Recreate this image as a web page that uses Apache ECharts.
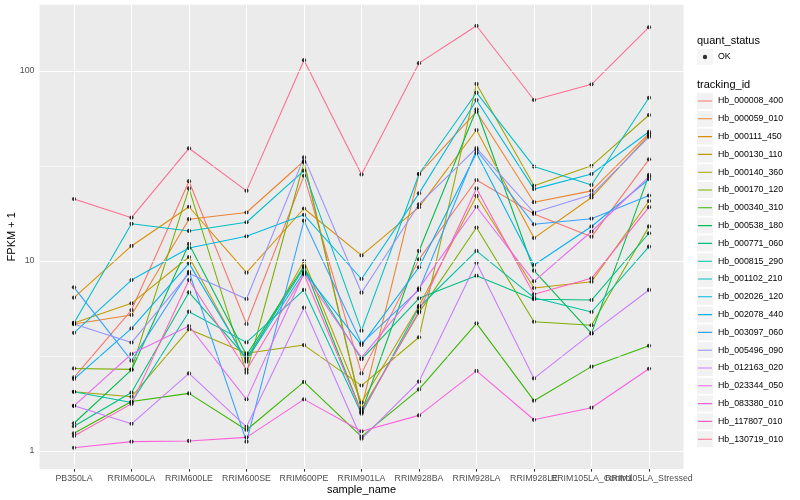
<!DOCTYPE html>
<html><head><meta charset="utf-8">
<script src="https://cdn.jsdelivr.net/npm/echarts@6/dist/echarts.min.js"></script>
<style>html,body{margin:0;padding:0;background:#fff}#c{width:800px;height:500px}</style>
</head><body><div id="c"></div>
<script>
// ---------- data ----------
const samples = ['PB350LA','RRIM600LA','RRIM600LE','RRIM600SE','RRIM600PE','RRIM901LA','RRIM928BA','RRIM928LA','RRIM928LE','RRIM105LA_Control','RRIM105LA_Stressed'];
const trackingIds = ['Hb_000008_400','Hb_000059_010','Hb_000111_450','Hb_000130_110','Hb_000140_360','Hb_000170_120','Hb_000340_310','Hb_000538_180','Hb_000771_060','Hb_000815_290','Hb_001102_210','Hb_002026_120','Hb_002078_440','Hb_003097_060','Hb_005496_090','Hb_012163_020','Hb_023344_050','Hb_083380_010','Hb_117807_010','Hb_130719_010'];
const quantStatus = ['OK'];

const Hb_000008_400 = [2.44, 5.52, 26.3, 4.66, 28.1, 2.56, 10.2, 26.7, 17.7, 13.4, 34.3];
const Hb_000059_010 = [4.66, 5.20, 16.6, 18.0, 33.6, 1.68, 28.7, 61.1, 20.4, 23.4, 47.0];
const Hb_000111_450 = [6.41, 12.0, 19.3, 8.68, 18.9, 10.7, 19.2, 48.9, 13.2, 21.6, 46.0];
const Hb_000130_110 = [4.72, 5.99, 10.5, 2.95, 10.0, 1.80, 5.80, 22.0, 7.21, 7.78, 20.7];
const Hb_000140_360 = [2.05, 1.93, 4.37, 3.27, 3.61, 2.21, 3.97, 85.5, 24.9, 31.7, 58.7];
const Hb_000170_120 = [2.72, 2.69, 24.1, 2.58, 33.1, 1.64, 5.35, 15.0, 4.79, 4.59, 15.2];
const Hb_000340_310 = [1.24, 1.82, 2.01, 1.29, 2.31, 1.19, 2.11, 4.70, 1.84, 2.78, 3.58];
const Hb_000538_180 = [1.40, 2.67, 12.3, 3.20, 9.41, 1.60, 11.3, 62.9, 8.89, 4.16, 28.4];
const Hb_000771_060 = [1.35, 2.03, 6.84, 3.09, 9.22, 3.04, 6.36, 8.37, 6.29, 6.23, 14.0];
const Hb_000815_290 = [2.05, 1.80, 5.41, 3.73, 7.04, 1.57, 5.71, 11.3, 6.41, 5.39, 11.9];
const Hb_001102_210 = [4.72, 15.7, 14.4, 16.0, 29.9, 4.30, 28.7, 76.9, 31.4, 25.1, 72.3];
const Hb_002026_120 = [4.19, 7.94, 11.7, 13.5, 17.5, 8.04, 22.7, 70.4, 23.9, 28.7, 47.9];
const Hb_002078_440 = [2.39, 4.42, 9.72, 3.01, 8.78, 3.61, 9.27, 37.0, 9.53, 15.2, 27.0];
const Hb_003097_060 = [7.27, 2.99, 8.78, 1.12, 16.3, 3.69, 7.04, 38.4, 15.6, 16.7, 22.1];
const Hb_005496_090 = [4.66, 3.72, 8.60, 6.31, 35.1, 6.81, 19.9, 39.3, 18.0, 22.3, 45.0];
const Hb_012163_020 = [1.73, 1.39, 2.56, 1.34, 5.68, 1.16, 2.32, 9.80, 2.41, 4.16, 7.04];
const Hb_023344_050 = [1.73, 3.24, 4.55, 1.87, 8.62, 3.10, 7.18, 19.3, 7.82, 14.3, 27.8];
const Hb_083380_010 = [1.04, 1.12, 1.13, 1.18, 1.87, 1.27, 1.54, 2.64, 1.46, 1.69, 2.71];
const Hb_117807_010 = [1.20, 1.77, 7.94, 2.67, 8.51, 1.60, 5.44, 24.1, 6.68, 8.11, 19.2];
const Hb_130719_010 = [21.2, 16.9, 39.2, 23.4, 114, 28.5, 110, 173, 70.4, 85.1, 170];

const seriesValues = [Hb_000008_400, Hb_000059_010, Hb_000111_450, Hb_000130_110, Hb_000140_360,
  Hb_000170_120, Hb_000340_310, Hb_000538_180, Hb_000771_060, Hb_000815_290, Hb_001102_210,
  Hb_002026_120, Hb_002078_440, Hb_003097_060, Hb_005496_090, Hb_012163_020, Hb_023344_050,
  Hb_083380_010, Hb_117807_010, Hb_130719_010];

const yTickValues = [1, 10, 100];
const yMinorValues = [3.1623, 31.623];

// ---------- style ----------
const palette = ['#F8766D','#EA8331','#D89000','#C09B00','#A3A500','#7CAE00','#39B600','#00BB4E','#00BF7D','#00C1A3',
  '#00BFC4','#00BAE0','#00B0F6','#35A2FF','#9590FF','#C77CFF','#E76BF3','#FA62DB','#FF62BC','#FF6C91'];
const FONT = "'Liberation Sans', Arial, Helvetica, sans-serif";
const xIdx = samples.map((s, i) => i);
// labels split over two twin axes so that neighbouring (overlapping) labels are all kept
const xIdxEven = xIdx.filter(i => i % 2 === 0);
const xIdxOdd = xIdx.filter(i => i % 2 === 1);

const chart = echarts.init(document.getElementById('c'), null, {renderer: 'canvas'});

const lineSeries = trackingIds.map((id, k) => ({
  name: id, type: 'line', z: 2, silent: true, animation: false,
  xAxisIndex: 0, yAxisIndex: 0,
  data: seriesValues[k].map((v, i) => [i, v]),
  symbol: 'none', showSymbol: false,
  itemStyle: {color: palette[k]},
  lineStyle: {color: palette[k], width: 1.07},
  emphasis: {disabled: true}
}));

const points = [];
seriesValues.forEach(arr => arr.forEach((v, i) => points.push([i, v])));
const pointSeries = {
  name: quantStatus[0], type: 'scatter', z: 3, silent: true, animation: false,
  xAxisIndex: 0, yAxisIndex: 0,
  data: points, symbol: 'circle', symbolSize: 4.2,
  itemStyle: {color: '#000'}, emphasis: {disabled: true}
};

const major = {color: '#FFFFFF', width: 1.07, type: 'solid'};
const minor = {color: '#FFFFFF', width: 0.53, type: 'solid'};
const gridSeries = {
  name: '_grid', type: 'line', z: 1, silent: true, animation: false, data: [],
  xAxisIndex: 0, yAxisIndex: 0,
  markLine: {
    silent: true, animation: false, symbol: ['none', 'none'], label: {show: false},
    emphasis: {disabled: true},
    data: [
      ...yMinorValues.map(v => ({yAxis: v, lineStyle: minor})),
      ...yTickValues.map(v => ({yAxis: v, lineStyle: major})),
      ...xIdx.map(i => ({xAxis: i, lineStyle: major}))
    ]
  }
};

const legendCommon = {
  orient: 'vertical', left: 697, padding: 0, itemWidth: 16, itemHeight: 16, itemGap: 1.8,
  selectedMode: false
};
const bgLegendStyle = {icon: 'rect', itemStyle: {color: '#F2F2F2', borderWidth: 0},
  textStyle: {color: 'rgba(0,0,0,0)', fontSize: 8.8, fontFamily: FONT}, z: 3};
const fgText = {color: '#000', fontSize: 8.8, fontFamily: FONT};

const xLabelStyle = {formatter: v => samples[Math.round(v)], fontSize: 8.8,
  color: '#4D4D4D', margin: 5, fontFamily: FONT, hideOverlap: false,
  showMinLabel: true, showMaxLabel: true};

chart.setOption({
  animation: false,
  backgroundColor: '#FFFFFF',
  title: [
    {text: 'quant_status', left: 697, top: 35, padding: 0,
     textStyle: {fontSize: 11, fontWeight: 'normal', color: '#000', fontFamily: FONT}},
    {text: 'tracking_id', left: 697, top: 79, padding: 0,
     textStyle: {fontSize: 11, fontWeight: 'normal', color: '#000', fontFamily: FONT}}
  ],
  legend: [
    Object.assign({}, legendCommon, bgLegendStyle, {top: 49, data: quantStatus}),
    Object.assign({}, legendCommon, {top: 49, z: 4, data: quantStatus,
      icon: 'path://M0,0L16,0M0,16L16,16M10.2,8A2.2,2.2,0,1,1,5.8,8A2.2,2.2,0,1,1,10.2,8Z',
      itemStyle: {color: '#000', borderWidth: 0}, textStyle: fgText}),
    Object.assign({}, legendCommon, bgLegendStyle, {top: 93, data: trackingIds}),
    Object.assign({}, legendCommon, {top: 93, z: 4,
      data: trackingIds.map((id, k) => ({name: id, itemStyle: {color: palette[k], borderWidth: 0}})),
      icon: 'path://M0,0L16,0M0,16L16,16M1,7.45L15,7.45L15,8.55L1,8.55Z',
      itemStyle: {borderWidth: 0}, textStyle: fgText})
  ],
  grid: {left: 39.5, right: 116.5, top: 4.7, bottom: 31.1, show: true,
         backgroundColor: '#EBEBEB', borderWidth: 0, containLabel: false, outerBoundsMode: 'none'},
  xAxis: [{
    type: 'value', min: -0.6, max: 10.6, position: 'bottom', offset: 0,
    name: 'sample_name', nameLocation: 'middle', nameGap: 16, nameMoveOverlap: false,
    nameTextStyle: {fontSize: 11, color: '#000', fontFamily: FONT},
    axisLine: {show: false},
    axisTick: {show: true, customValues: xIdx, length: 2.75, lineStyle: {color: '#333333', width: 1.07}},
    axisLabel: Object.assign({customValues: xIdxEven}, xLabelStyle),
    splitLine: {show: false}, minorTick: {show: false}, minorSplitLine: {show: false}
  }, {
    type: 'value', min: -0.6, max: 10.6, position: 'bottom', offset: 0,
    axisLine: {show: false}, axisTick: {show: false},
    axisLabel: Object.assign({customValues: xIdxOdd}, xLabelStyle),
    splitLine: {show: false}, minorTick: {show: false}, minorSplitLine: {show: false}
  }],
  yAxis: {
    type: 'log', logBase: 10, min: 0.805, max: 223.4,
    name: 'FPKM + 1', nameLocation: 'middle', nameGap: 22, nameRotate: 90, nameMoveOverlap: false,
    nameTextStyle: {fontSize: 11, color: '#000', fontFamily: FONT},
    axisLine: {show: false},
    axisTick: {show: true, customValues: yTickValues, length: 2.75, lineStyle: {color: '#333333', width: 1.07}},
    axisLabel: {customValues: yTickValues, fontSize: 8.8, color: '#4D4D4D', margin: 5, fontFamily: FONT,
                showMinLabel: true, showMaxLabel: true},
    splitLine: {show: false}, minorTick: {show: false}, minorSplitLine: {show: false}
  },
  series: [gridSeries, ...lineSeries, pointSeries]
});
</script></body></html>
